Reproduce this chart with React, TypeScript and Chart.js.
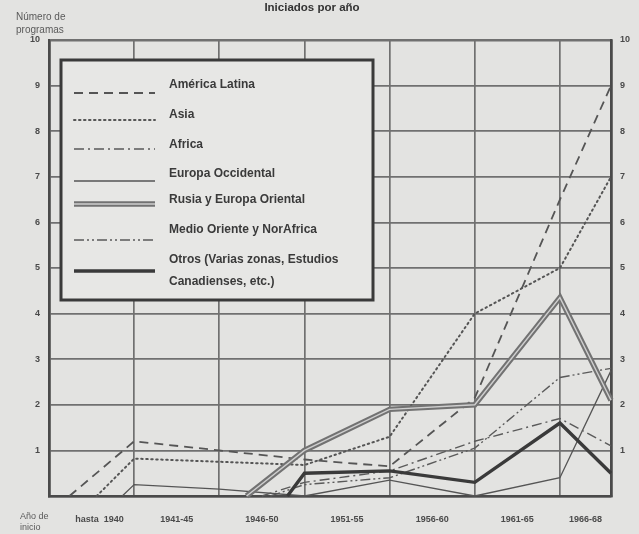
import React, { useEffect, useRef } from "react";
import { Chart, registerables } from "chart.js";

Chart.register(...registerables);

// ---------- data ----------
const periodBounds = [1935, 1940, 1945, 1950, 1955, 1960, 1965, 1968];
const periodLabels = ["hasta  1940", "1941-45", "1946-50", "1951-55", "1956-60", "1961-65", "1966-68"];
const yMin = 0;
const yMax = 10;

const latamYears = [1936.2, 1940, 1945, 1950, 1955, 1960, 1965, 1968];
const latamValues = [0, 1.2, 1.0, 0.8, 0.65, 2.15, 6.5, 9.0];

const asiaYears = [1937.8, 1940, 1945, 1950, 1955, 1960, 1965, 1968];
const asiaValues = [0, 0.82, 0.75, 0.68, 1.3, 4.0, 5.0, 7.0];

const africaYears = [1947.5, 1950, 1955, 1960, 1965, 1968];
const africaValues = [0, 0.3, 0.55, 1.2, 1.7, 1.1];

const europaOccYears = [1939.3, 1940, 1945, 1950, 1955, 1960, 1965, 1968];
const europaOccValues = [0, 0.25, 0.15, 0, 0.35, 0, 0.4, 2.75];

const rusiaYears = [1946.6, 1950, 1955, 1960, 1965, 1968];
const rusiaValues = [0, 1.0, 1.9, 2.0, 4.35, 2.1];

const medioYears = [1948, 1950, 1955, 1960, 1965, 1968];
const medioValues = [0, 0.25, 0.4, 1.05, 2.6, 2.8];

const otrosYears = [1949, 1950, 1955, 1960, 1965, 1968];
const otrosValues = [0, 0.5, 0.55, 0.3, 1.6, 0.5];

// ---------- styles ----------
const paper = "#e3e3e1";
const ink = "#4a4a4a";
const gridColor = "#707070";
const font = "'Liberation Sans', Arial, sans-serif";

type LineStyle = { color: string; width: number; dash: number[]; cap?: CanvasLineCap; inner?: { color: string; width: number } };

const sLatam: LineStyle = { color: "#555555", width: 1.8, dash: [9, 6] };
const sAsia: LineStyle = { color: "#555555", width: 2, dash: [1.5, 3.5], cap: "round" };
const sAfrica: LineStyle = { color: "#5a5a5a", width: 1.4, dash: [10, 4, 2, 4] };
const sEuropa: LineStyle = { color: "#555555", width: 1.3, dash: [] };
const sRusia: LineStyle = { color: "#727272", width: 5.5, dash: [], inner: { color: "#cfcfcf", width: 1.4 } };
const sMedio: LineStyle = { color: "#5a5a5a", width: 1.4, dash: [10, 3, 2, 3, 2, 3] };
const sOtros: LineStyle = { color: "#3a3a3a", width: 3.4, dash: [] };

const legendItems: { lines: string[]; style: LineStyle }[] = [
  { lines: ["América Latina"], style: sLatam },
  { lines: ["Asia"], style: sAsia },
  { lines: ["Africa"], style: sAfrica },
  { lines: ["Europa Occidental"], style: sEuropa },
  { lines: ["Rusia y Europa Oriental"], style: sRusia },
  { lines: ["Medio Oriente y NorAfrica"], style: sMedio },
  { lines: ["Otros (Varias zonas, Estudios", "Canadienses, etc.)"], style: sOtros },
];

function pts(xs: number[], ys: number[]) {
  return xs.map((x, i) => ({ x, y: ys[i] }));
}

function ds(label: string, xs: number[], ys: number[], s: LineStyle, inner = false) {
  return {
    label,
    data: pts(xs, ys),
    borderColor: inner && s.inner ? s.inner.color : s.color,
    borderWidth: inner && s.inner ? s.inner.width : s.width,
    borderDash: s.dash,
    borderCapStyle: s.cap || "butt",
    borderJoinStyle: "miter",
    pointRadius: 0,
    tension: 0,
    fill: false,
    clip: false,
  } as any;
}

const textPlugin = {
  id: "textPlugin",
  afterDraw(chart: any) {
    const { ctx, chartArea: ca, scales } = chart;
    const xs = scales.x;
    ctx.save();
    // title
    ctx.fillStyle = "#333";
    ctx.font = `bold 11.5px ${font}`;
    ctx.textAlign = "center";
    ctx.textBaseline = "middle";
    ctx.fillText("Iniciados por año", 312, 8);
    // y caption
    ctx.fillStyle = "#5a5a5a";
    ctx.font = `10px ${font}`;
    ctx.textAlign = "left";
    ctx.fillText("Número de", 16, 17);
    ctx.fillText("programas", 16, 30);
    // x labels
    ctx.fillStyle = "#4a4a4a";
    ctx.font = `bold 9px ${font}`;
    ctx.textAlign = "center";
    for (let i = 0; i < periodLabels.length; i++) {
      const mid = (periodBounds[i] + periodBounds[i + 1]) / 2;
      ctx.fillText(periodLabels[i], xs.getPixelForValue(mid) + (i === 0 ? 8 : 0), ca.bottom + 24);
    }
    ctx.font = `9px ${font}`;
    ctx.textAlign = "left";
    ctx.fillStyle = "#5a5a5a";
    ctx.fillText("Año de", 20, ca.bottom + 21);
    ctx.fillText("inicio", 20, ca.bottom + 32);

    // legend box
    const bx = ca.left + 12;
    const by = ca.top + 20;
    const bw = 312;
    const bh = 240;
    ctx.fillStyle = "#e7e7e5";
    ctx.fillRect(bx, by, bw, bh);
    ctx.strokeStyle = "#3a3a3a";
    ctx.lineWidth = 3;
    ctx.strokeRect(bx, by, bw, bh);

    const textY = [25, 55, 85, 114, 140, 170, 200];
    const sampleY = [33, 60, 89, 121, 144, 180, 211];
    legendItems.forEach((it, i) => {
      const sy = by + sampleY[i];
      const x0 = bx + 13;
      const x1 = bx + 94;
      const draw = (color: string, width: number) => {
        ctx.beginPath();
        ctx.strokeStyle = color;
        ctx.lineWidth = width;
        ctx.setLineDash(it.style.dash);
        ctx.lineCap = it.style.cap || "butt";
        ctx.moveTo(x0, sy);
        ctx.lineTo(x1, sy);
        ctx.stroke();
      };
      draw(it.style.color, it.style.width);
      if (it.style.inner) draw(it.style.inner.color, it.style.inner.width);
      ctx.setLineDash([]);
      ctx.fillStyle = "#3a3a3a";
      ctx.font = `bold 12px ${font}`;
      ctx.textAlign = "left";
      ctx.textBaseline = "middle";
      it.lines.forEach((ln, j) => {
        ctx.fillText(ln, bx + 108, by + textY[i] + j * 22);
      });
    });
    ctx.restore();
  },
};

export default function App() {
  const ref = useRef<HTMLCanvasElement | null>(null);

  useEffect(() => {
    if (!ref.current) return;
    const edgeX = (c: any) => (c.tick && (c.tick.value === periodBounds[0] || c.tick.value === periodBounds[periodBounds.length - 1]) ? 2.6 : 1.7);
    const edgeY = (c: any) => (c.tick && (c.tick.value === yMin || c.tick.value === yMax) ? 2.6 : 1.7);
    const chart = new Chart(ref.current, {
      type: "line",
      data: {
        datasets: [
          ds("Otros (Varias zonas, Estudios Canadienses, etc.)", otrosYears, otrosValues, sOtros),
          ds("Rusia y Europa Oriental (interior)", rusiaYears, rusiaValues, sRusia, true),
          ds("Rusia y Europa Oriental", rusiaYears, rusiaValues, sRusia),
          ds("América Latina", latamYears, latamValues, sLatam),
          ds("Asia", asiaYears, asiaValues, sAsia),
          ds("Africa", africaYears, africaValues, sAfrica),
          ds("Europa Occidental", europaOccYears, europaOccValues, sEuropa),
          ds("Medio Oriente y NorAfrica", medioYears, medioValues, sMedio),
        ],
      },
      options: {
        responsive: false,
        devicePixelRatio: 1,
        animation: false,
        layout: { padding: { top: 40, left: 0, right: 0, bottom: 0 } },
        plugins: { legend: { display: false }, title: { display: false }, tooltip: { enabled: false } },
        scales: {
          x: {
            type: "linear",
            min: periodBounds[0],
            max: periodBounds[periodBounds.length - 1],
            afterBuildTicks: (axis: any) => {
              axis.ticks = periodBounds.map((v) => ({ value: v }));
            },
            afterFit: (axis: any) => {
              axis.height = 38;
            },
            ticks: { display: false },
            grid: { color: gridColor, lineWidth: edgeX, drawTicks: false },
            border: { display: true, color: ink, width: 2.6 },
          },
          y: {
            position: "left",
            min: yMin,
            max: yMax,
            afterFit: (axis: any) => {
              axis.width = 49;
            },
            ticks: {
              stepSize: 1,
              padding: 9,
              color: "#4a4a4a",
              font: { family: font, size: 9, weight: "bold" },
              callback: (v: any) => (v === 0 ? "" : String(v)),
            },
            grid: { color: gridColor, lineWidth: edgeY, drawTicks: false },
            border: { display: true, color: ink, width: 2.6 },
          },
          y2: {
            position: "right",
            min: yMin,
            max: yMax,
            afterFit: (axis: any) => {
              axis.width = 28;
            },
            ticks: {
              stepSize: 1,
              padding: 9,
              color: "#4a4a4a",
              font: { family: font, size: 9, weight: "bold" },
              callback: (v: any) => (v === 0 ? "" : String(v)),
            },
            grid: { display: false, drawTicks: false },
            border: { display: true, color: ink, width: 2.6 },
          },
        },
      } as any,
      plugins: [textPlugin],
    });
    return () => chart.destroy();
  }, []);

  return (
    <div style={{ position: "fixed", left: 0, top: 0, width: 639, height: 534, background: paper, overflow: "hidden" }}>
      <canvas ref={ref} width={639} height={534} style={{ display: "block", width: 639, height: 534 }} />
    </div>
  );
}
